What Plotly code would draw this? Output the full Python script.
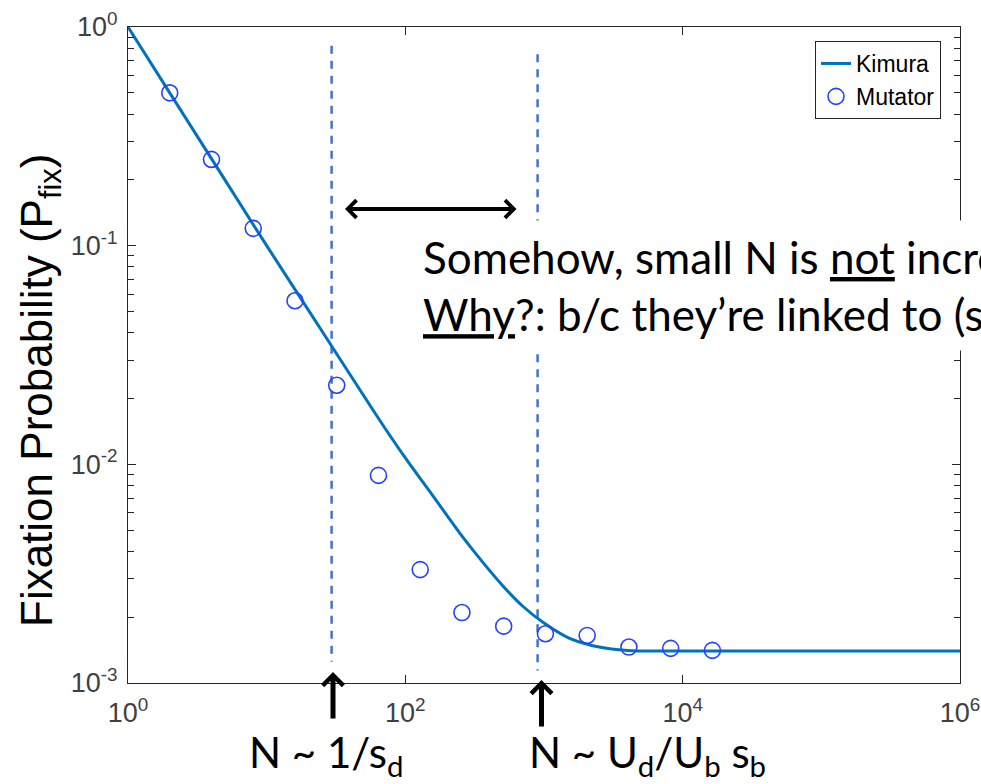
import plotly.graph_objects as go

# ---- data ----
kimura_N = [1, 2, 5, 10, 20, 40, 70, 100, 160, 250, 360, 500, 700, 1000,
            1500, 2500, 4000, 7000, 10000, 100000, 1000000]
kimura_P = [1.0, 0.5, 0.2, 0.1, 0.0507, 0.0257, 0.0149, 0.0107, 0.0071, 0.0048,
            0.00358, 0.0028, 0.00225, 0.00188, 0.00161, 0.00146, 0.001408, 0.0014,
            0.0014, 0.0014, 0.0014]

mutator_N = [2, 4, 8, 16, 32, 64, 128, 256, 512, 1024, 2048, 4096, 8192, 16384]
mutator_P = [0.5, 0.248, 0.12, 0.056, 0.023, 0.0089, 0.0033, 0.0021, 0.00182,
             0.00168, 0.00165, 0.00146, 0.00144, 0.00141]

guide_N = [29.4, 899]
guide_top = [0.82, 0.75]
guide_bottom = [0.00125, 0.00114]

x_tickvals = [1, 100, 1e4, 1e6]
x_ticktext = ["10<sup>0</sup>", "10<sup>2</sup>", "10<sup>4</sup>", "10<sup>6</sup>"]
y_tickvals = [1e-3, 1e-2, 1e-1, 1]
y_ticktext = ["10<sup>-3</sup>", "10<sup>-2</sup>", "10<sup>-1</sup>", "10<sup>0</sup>"]
y_minor = [m * 10 ** e for e in (-3, -2, -1) for m in range(2, 10)]

W, H = 981, 784
L, R, T, B = 128, 21, 27, 101
PW, PH = W - L - R, H - T - B


def px(x):
    return (x - L) / PW


def py(y):
    return (H - B - y) / PH


fig = go.Figure()

for n, top, bot in zip(guide_N, guide_top, guide_bottom):
    fig.add_trace(go.Scatter(
        x=[n, n], y=[top, bot], mode="lines", showlegend=False,
        line=dict(color="#4472C4", width=2.5, dash="8px,7px"), hoverinfo="skip"))

fig.add_trace(go.Scatter(
    x=kimura_N, y=kimura_P, mode="lines", name="Kimura",
    line=dict(color="#0072BD", width=3, shape="spline", smoothing=1)))

fig.add_trace(go.Scatter(
    x=mutator_N, y=mutator_P, mode="markers", name="Mutator",
    marker=dict(symbol="circle-open", size=16, color="#2640FF",
                line=dict(width=1.6, color="#2640FF"))))

axis_common = dict(
    type="log", showline=True, linecolor="#262626", linewidth=1,
    mirror="ticks", ticks="inside", tickcolor="#262626", ticklen=8,
    showgrid=False, zeroline=False, automargin=False,
    tickfont=dict(family="Liberation Sans, Arial", size=27, color="#404040"),
)

fig.update_xaxes(range=[0, 6], tickmode="array", tickvals=x_tickvals,
                 ticktext=x_ticktext, ticklabelstandoff=6, **axis_common)
fig.update_yaxes(range=[-3, 0], tickmode="array", tickvals=y_tickvals,
                 ticktext=y_ticktext, ticklabelstandoff=4,
                 minor=dict(tickmode="array", tickvals=y_minor, ticks="inside",
                            ticklen=6, tickcolor="#262626", showgrid=False),
                 **axis_common)

note_font = dict(family="Lato, Carlito, Calibri, sans-serif", size=44, color="black")
label_font = dict(family="Lato, Carlito, Calibri, sans-serif", size=42, color="black")

annotations = [
    # y-axis title
    dict(text="Fixation Probability (P<sub>fix</sub>)", textangle=-90,
         x=px(40), y=py(391), xref="paper", yref="paper", showarrow=False,
         xanchor="center", yanchor="middle",
         font=dict(family="Liberation Sans, Arial", size=44, color="black")),
    # comment text (cut off by the right edge, as in the original slide)
    dict(text="Somehow, small N is <u>not</u> increasing<br><u>Why</u>?: b/c they\u2019re linked to (s",
         x=px(412), y=py(220), xref="paper", yref="paper", showarrow=False,
         xanchor="left", yanchor="top", align="left", bgcolor="white",
         borderpad=10, font=note_font),
    # double arrow
    dict(text="", x=px(345), y=py(209), xref="paper", yref="paper",
         ax=173, ay=0, axref="pixel", ayref="pixel", showarrow=True,
         arrowside="end+start", arrowhead=4, startarrowhead=4,
         arrowwidth=4, arrowsize=0.85, startarrowsize=0.85,
         arrowcolor="black", standoff=0, startstandoff=0),
    # up arrows
    dict(text="", x=px(333), y=py(672), xref="paper", yref="paper",
         ax=0, ay=48, axref="pixel", ayref="pixel", showarrow=True,
         arrowhead=4, arrowwidth=5, arrowsize=0.8, arrowcolor="black",
         standoff=0),
    dict(text="", x=px(541.5), y=py(680), xref="paper", yref="paper",
         ax=0, ay=48, axref="pixel", ayref="pixel", showarrow=True,
         arrowhead=4, arrowwidth=5, arrowsize=0.8, arrowcolor="black",
         standoff=0),
    # bottom labels
    dict(text="N ~ 1/s<sub>d</sub>", x=px(248), y=py(726), xref="paper", yref="paper",
         showarrow=False, xanchor="left", yanchor="top", borderpad=0, font=label_font),
    dict(text="N ~ U<sub>d</sub>/U<sub>b</sub> s<sub>b</sub>", x=px(528), y=py(726),
         xref="paper", yref="paper", showarrow=False, xanchor="left",
         yanchor="top", borderpad=0, font=label_font),
]

fig.update_layout(
    width=W, height=H,
    margin=dict(l=L, r=R, t=T, b=B, pad=0, autoexpand=False),
    paper_bgcolor="white", plot_bgcolor="white",
    annotations=annotations,
    legend=dict(x=px(941), y=py(41), xanchor="right", yanchor="top",
                bgcolor="white", bordercolor="#262626", borderwidth=1,
                font=dict(family="Liberation Sans, Arial", size=23, color="black"),
                tracegroupgap=0, itemwidth=30),
)

fig.write_html("out.html")
